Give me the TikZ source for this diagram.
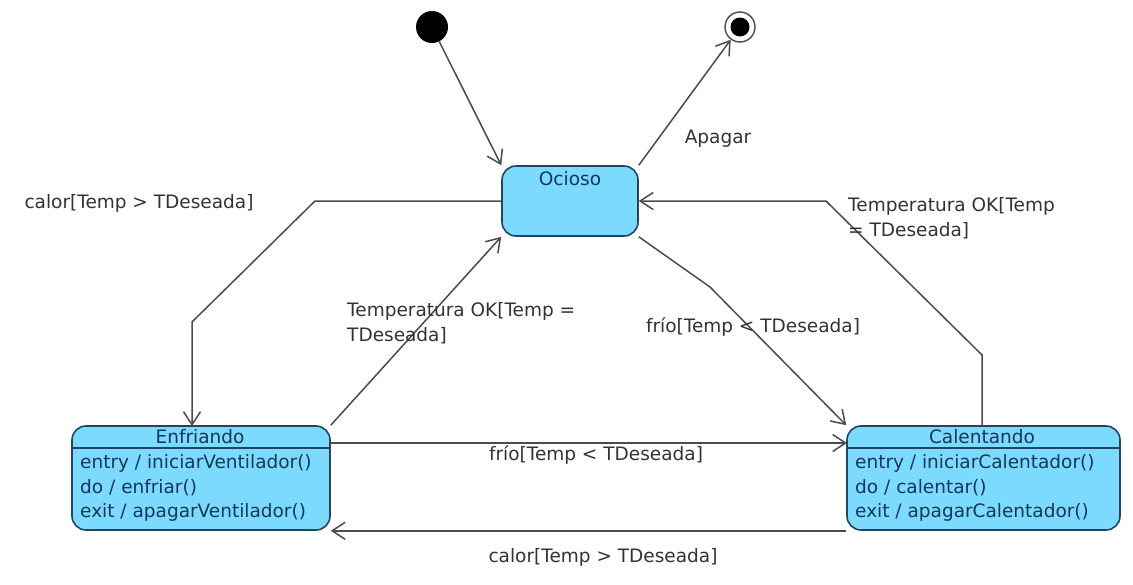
\documentclass[tikz,border=0pt]{standalone}
\usepackage{fontspec}
\setmainfont{DejaVu Sans}
\usetikzlibrary{arrows.meta,calc}
\definecolor{stfill}{RGB}{124,218,255}
\definecolor{stdraw}{RGB}{35,70,95}
\definecolor{sttext}{RGB}{20,55,90}
\definecolor{ln}{RGB}{75,75,75}
\definecolor{lbl}{RGB}{50,50,50}
\tikzset{
  statebox/.style={draw=stdraw, line width=1.6pt, fill=stfill, rounded corners=14pt, inner sep=0pt},
  sttitle/.style={text=sttext, font=\fontsize{18.5}{24.5}\selectfont, inner sep=0pt},
  stbody/.style={text=sttext, font=\fontsize{18.5}{24.5}\selectfont, inner sep=0pt, align=left, anchor=west},
  lab/.style={text=lbl, font=\fontsize{18.5}{24.5}\selectfont, inner sep=0pt},
  tr/.style={draw=ln, line width=1.5pt, -{Straight Barb[length=13pt,width=17pt,line width=1.5pt]}}
}
\begin{document}
\begin{tikzpicture}[x=1pt,y=-1pt]
\useasboundingbox (0,0) rectangle (1133,584);
% pseudo states
\node[circle, fill=black, minimum size=32pt, inner sep=0pt] (ini) at (432,27) {};
\node[circle, draw=ln, line width=1.4pt, fill=white, minimum size=30pt, inner sep=0pt] (fin) at (740,27) {};
\node[circle, fill=black, minimum size=19pt, inner sep=0pt] (fincore) at (740,27) {};
% states
\node[statebox, minimum width=136pt, minimum height=70pt] (oc) at (570,201) {};
\node[sttitle] (octitle) at (570,179) {Ocioso};

\node[statebox, minimum width=258pt, minimum height=104pt] (enf) at (201,478) {};
\draw[draw=stdraw, line width=1.6pt] ($(enf.north west)+(0,23)$) coordinate (enfl) -- ($(enf.north east)+(0,23)$) coordinate (enfr);
\node[sttitle] (enftitle) at (200,437) {Enfriando};
\node[stbody] (enfbody) at (80,488) {entry / iniciarVentilador()\\do / enfriar()\\exit / apagarVentilador()};

\node[statebox, minimum width=273pt, minimum height=104pt] (cal) at (983.5,478) {};
\draw[draw=stdraw, line width=1.6pt] ($(cal.north west)+(0,23)$) coordinate (call) -- ($(cal.north east)+(0,23)$) coordinate (calr);
\node[sttitle] (caltitle) at (982,437) {Calentando};
\node[stbody] (calbody) at (855,488) {entry / iniciarCalentador()\\do / calentar()\\exit / apagarCalentador()};

% bend coordinates
\coordinate (a1) at (315,201);
\coordinate (a2) at (192,322);
\coordinate (a3) at (192,426);
\coordinate (b1) at (710,287);
\coordinate (c0) at (982,426);
\coordinate (c1) at (982,355);
\coordinate (c2) at (826,201);
\coordinate (d0) at (330,443);
\coordinate (d1) at (847,443);

% transitions
\draw[tr] (ini) -- (oc.north west);
\draw[tr] (oc.north east) -- (fin);
\draw[tr] (oc.west) -- (a1) -- (a2) -- (a3);
\draw[tr] (enf.north east) -- (oc.south west);
\draw[tr] (oc.south east) -- (b1) -- (cal.north west);
\draw[tr] (c0) -- (c1) -- (c2) -- (oc.east);
\draw[tr] (d0) -- (d1);
\draw[tr] (cal.south west) -- (enf.south east);

% labels
\node[lab] (lApagar) at (718,139) {Apagar};
\node[lab] (lCalor1) at (139,203) {calor[Temp > TDeseada]};
\node[lab, align=left, anchor=west] (lOK1) at (347,323) {Temperatura OK[Temp =\\TDeseada]};
\node[lab] (lFrio1) at (753,327) {frío[Temp < TDeseada]};
\node[lab, align=left, anchor=west] (lOK2) at (848,218) {Temperatura OK[Temp\\= TDeseada]};
\node[lab] (lFrio2) at (596,455) {frío[Temp < TDeseada]};
\node[lab] (lCalor2) at (603,557) {calor[Temp > TDeseada]};
\end{tikzpicture}
\end{document}
